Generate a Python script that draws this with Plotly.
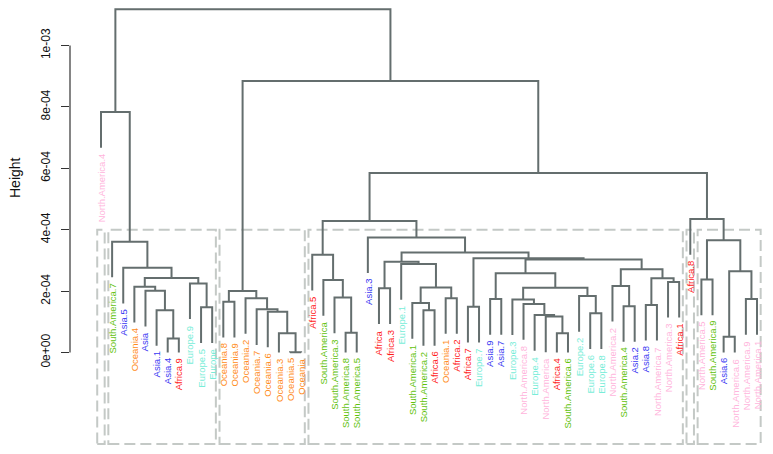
import plotly.graph_objects as go

# ---------------- data ----------------
leaf_labels = [
    "North.America.4", "South.America.7", "Asia.5", "Oceania.4", "Asia", "Asia.1", "Asia.4", "Africa.9",
    "Europe.9", "Europe.5", "Europe", "Oceania.8", "Oceania.9", "Oceania.2", "Oceania.7", "Oceania.6",
    "Oceania.3", "Oceania.5", "Oceania", "Africa.5", "South.America", "South.America.3", "South.America.8",
    "South.America.5", "Asia.3", "Africa", "Africa.3", "Europe.1", "South.America.1", "South.America.2",
    "Africa.6", "Oceania.1", "Africa.2", "Africa.7", "Europe.7", "Asia.9", "Asia.7", "Europe.3",
    "North.America.8", "Europe.4", "North.America", "Africa.4", "South.America.6", "Europe.2", "Europe.6",
    "Europe.8", "North.America.2", "South.America.4", "Asia.2", "Asia.8", "North.America.7",
    "North.America.3", "Africa.1", "Africa.8", "North.America.5", "South.America.9", "Asia.6",
    "North.America.6", "North.America.9", "North.America.1",
]

merge_names = [
    "L8", "L7", "L6", "L4", "L9", "L5", "L3", "L2", "L1", "L0",
    "B1", "B6", "B5", "B4", "B3", "B2", "B0",
    "R13", "R12", "R11", "R9",
    "A1", "Nd", "C422", "C452", "C437", "Nb", "Nc",
    "C474", "C496", "C562", "C555", "C545", "C535", "C524", "C596", "C588", "C556", "C526",
    "C629", "C621", "C651", "C673", "C663", "C643",
    "Nf", "Ne", "R14", "R10", "R2",
    "R5", "R7", "R8", "R6", "R4", "R3",
    "R1", "R0", "root",
]
merge_left = [
    "Asia.4", "Asia.1", "Asia", "Oceania.4", "Europe.5", "Europe.9", "L4", "Asia.5", "South.America.7", "North.America.4",
    "Oceania.8", "Oceania.5", "Oceania.3", "Oceania.6", "Oceania.7", "Oceania.2", "B1",
    "South.America.8", "South.America.3", "South.America", "Africa.5",
    "Africa", "South.America.2", "South.America.1", "Oceania.1", "C422", "Europe.1", "A1",
    "Africa.7", "Asia.9", "Africa.4", "North.America", "Europe.4", "North.America.8", "Europe.3", "Europe.6", "Europe.2", "C524", "C496",
    "South.America.4", "North.America.2", "Asia.8", "North.America.3", "C651", "C621",
    "C526", "C474", "Nc", "Asia.3", "R9",
    "North.America.5", "Asia.6", "North.America.9", "R7", "R5", "Africa.8",
    "R2", "B0", "L0",
]
merge_right = [
    "Africa.9", "L8", "L7", "L6", "Europe", "L9", "L5", "L3", "L2", "L1",
    "Oceania.9", "Oceania", "B6", "B5", "B4", "B3", "B2",
    "South.America.5", "R13", "R12", "R11",
    "Africa.3", "Africa.6", "Nd", "Africa.2", "C452", "C437", "Nb",
    "Europe.7", "Asia.7", "South.America.6", "C562", "C555", "C545", "C535", "Europe.8", "C596", "C588", "C556",
    "Asia.2", "C629", "North.America.7", "Africa.1", "C673", "C663",
    "C643", "Nf", "Ne", "R14", "R10",
    "South.America.9", "North.America.6", "North.America.1", "R8", "R6", "R4",
    "R3", "R1", "R0",
]
merge_height = [
    0.46e-4, 1.38e-4, 2.01e-4, 2.14e-4, 1.47e-4, 2.25e-4, 2.43e-4, 2.76e-4, 3.61e-4, 7.83e-4,
    1.65e-4, 0.01e-4, 0.63e-4, 1.33e-4, 1.41e-4, 1.77e-4, 2.00e-4,
    0.64e-4, 1.79e-4, 2.36e-4, 3.18e-4,
    2.09e-4, 1.38e-4, 1.61e-4, 1.77e-4, 2.12e-4, 2.88e-4, 2.96e-4,
    1.49e-4, 1.74e-4, 0.63e-4, 1.17e-4, 1.22e-4, 1.58e-4, 1.73e-4, 1.28e-4, 1.84e-4, 2.11e-4, 2.58e-4,
    1.51e-4, 2.17e-4, 1.55e-4, 2.30e-4, 2.42e-4, 2.71e-4,
    3.03e-4, 3.07e-4, 3.26e-4, 3.75e-4, 4.28e-4,
    2.38e-4, 0.51e-4, 1.74e-4, 2.65e-4, 3.66e-4, 4.35e-4,
    5.85e-4, 8.84e-4, 11.18e-4,
]

continent_colors = {
    "Africa": "#FF1A1A",
    "Asia": "#3838F2",
    "Europe": "#78EDD8",
    "North.America": "#FFB5DC",
    "Oceania": "#FF8C1A",
    "South.America": "#62C20C",
}

y_tick_vals = [0, 2e-4, 4e-4, 6e-4, 8e-4, 1e-3]
y_tick_text = ["0e+00", "2e-04", "4e-04", "6e-04", "8e-04", "1e-03"]
n_clusters = 6
rect_top = 4.0e-4
hang_frac = 0.104

# ---------------- layout geometry ----------------
# the page body adds an 8px margin; work in figure pixels = screen pixels - 8
OFF = 8
W, H = 773 - OFF, 454 - OFF
L_M, R_M = 70 - OFF, 5
px_first, px_last = 101 - OFF, 757 - OFF
n = len(leaf_labels)
plot_w = W - L_M - R_M
span = (n - 1) * plot_w / (px_last - px_first)
x0 = 1 - (px_first - L_M) * span / plot_w
x_range = [x0, x0 + span]
y_zero_px, px_per_unit = 352.5 - OFF, 3.07e5
y_range = [(y_zero_px - H) / px_per_unit, y_zero_px / px_per_unit]

def px_to_y(py):
    return (y_zero_px - (py - OFF)) / px_per_unit

# ---------------- tree geometry ----------------
hang = hang_frac * max(merge_height)
xpos = {lab: i + 1 for i, lab in enumerate(leaf_labels)}
hpos = {}
leaf_bottom = {}
members = {lab: [lab] for lab in leaf_labels}
seg_x, seg_y = [], []
for name, a, b, h in zip(merge_names, merge_left, merge_right, merge_height):
    ends = []
    for c in (a, b):
        if c in hpos:
            ends.append((xpos[c], hpos[c]))
        else:
            lb = max(0.0, h - hang)
            leaf_bottom[c] = lb
            ends.append((xpos[c], lb))
    xpos[name] = (xpos[a] + xpos[b]) / 2
    hpos[name] = h
    members[name] = members[a] + members[b]
    seg_x += [ends[0][0], ends[0][0], ends[1][0], ends[1][0], None]
    seg_y += [ends[0][1], h, h, ends[1][1], None]

fig = go.Figure()
fig.add_trace(go.Scatter(x=seg_x, y=seg_y, mode="lines", cliponaxis=False,
                         line=dict(color="#646E6E", width=2), hoverinfo="skip",
                         showlegend=False))

# cluster rectangles (k clusters)
sorted_h = sorted(merge_height, reverse=True)
cut = (sorted_h[n_clusters - 2] + sorted_h[n_clusters - 1]) / 2
clusters = []
def collect(node):
    if node in hpos and hpos[node] > cut:
        idx = merge_names.index(node)
        collect(merge_left[idx]); collect(merge_right[idx])
    else:
        clusters.append(members[node])
collect("root")
clusters.sort(key=lambda m: min(leaf_labels.index(x) for x in m))
rect_bottom = px_to_y(444)
start = 0
for m in clusters:
    end = start + len(m)
    fig.add_shape(type="rect", x0=start + 0.66, x1=end + 0.33, y0=rect_bottom, y1=rect_top,
                  line=dict(color="#C4C9C6", width=2, dash="11px,5px"), layer="below")
    start = end

# leaf labels
def color_of(lab):
    for k in ["North.America", "South.America", "Africa", "Asia", "Europe", "Oceania"]:
        if lab.startswith(k):
            return continent_colors[k]
    return "#000000"

for lab in leaf_labels:
    fig.add_annotation(x=xpos[lab], y=leaf_bottom[lab], text=lab, textangle=-90,
                       showarrow=False, xanchor="center", yanchor="top", yshift=-4,
                       font=dict(size=9.5, color=color_of(lab),
                                 family="Liberation Sans, Arial, sans-serif"))

# y axis line (only from 0 to 1e-3)
fig.add_shape(type="line", xref="paper", x0=0, x1=0, y0=y_tick_vals[0], y1=y_tick_vals[-1],
              line=dict(color="#333333", width=1.2))
fig.add_annotation(xref="paper", x=(15 - OFF - L_M) / plot_w, y=px_to_y(178), text="Height",
                   textangle=-90, showarrow=False, xanchor="center", yanchor="middle",
                   font=dict(size=14, color="#111111", family="Liberation Sans, Arial, sans-serif"))

fig.update_layout(
    width=W, height=H, margin=dict(l=L_M, r=R_M, t=0, b=0),
    plot_bgcolor="white", paper_bgcolor="white",
    xaxis=dict(range=x_range, visible=False, showgrid=False, zeroline=False),
    yaxis=dict(range=y_range, showgrid=False, zeroline=False, showline=False,
               tickvals=y_tick_vals, ticktext=y_tick_text, tickangle=-90,
               ticks="outside", ticklen=8, tickcolor="#333333", tickwidth=1.2,
               ticklabelstandoff=6,
               tickfont=dict(size=12, color="#111111", family="Liberation Sans, Arial, sans-serif")),
    showlegend=False,
)
fig.write_html("out.html")
